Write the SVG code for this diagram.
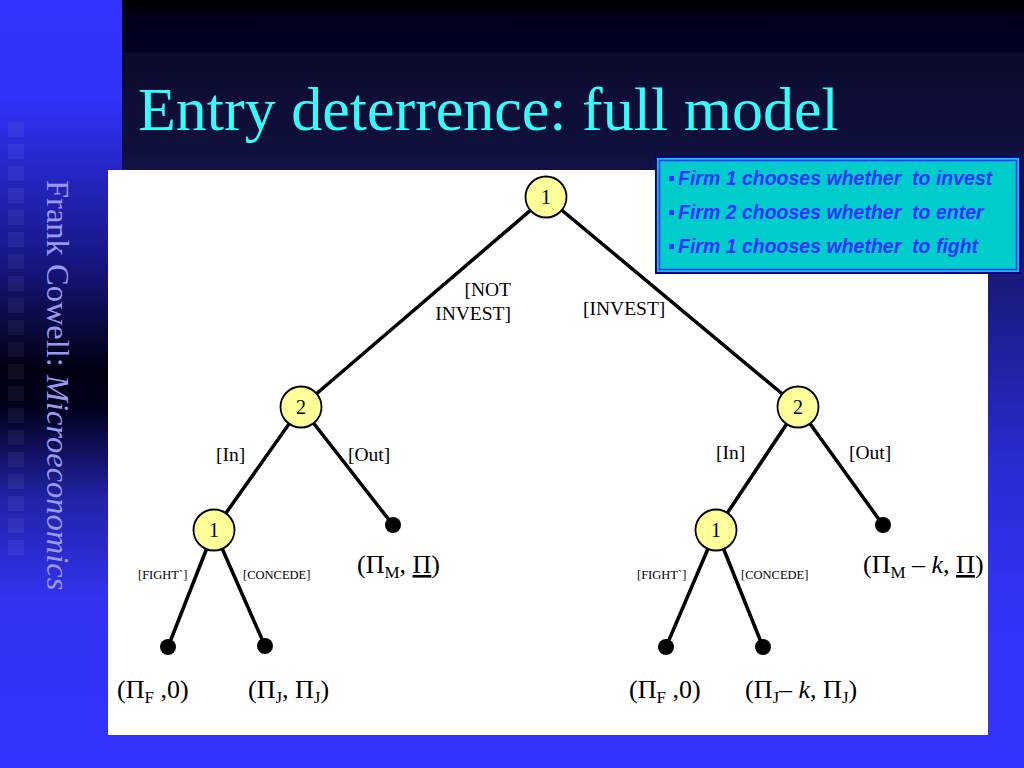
<svg xmlns="http://www.w3.org/2000/svg" width="1024" height="768" viewBox="0 0 1024 768">
<defs>
<linearGradient id="gMain" x1="0" y1="0" x2="0" y2="768" gradientUnits="userSpaceOnUse">
<stop offset="0" stop-color="#000000"/>
<stop offset="0.02" stop-color="#000018"/>
<stop offset="0.067" stop-color="#000024"/>
<stop offset="0.069" stop-color="#0b0b2e"/>
<stop offset="0.2" stop-color="#10103f"/>
<stop offset="0.4" stop-color="#1c1c88"/>
<stop offset="0.6" stop-color="#2a2ad0"/>
<stop offset="0.8" stop-color="#3333f8"/>
<stop offset="1" stop-color="#3333ff"/>
</linearGradient>
<linearGradient id="gLeft" x1="0" y1="0" x2="0" y2="768" gradientUnits="userSpaceOnUse">
<stop offset="0" stop-color="#3333ff"/>
<stop offset="0.13" stop-color="#3232f8"/>
<stop offset="0.33" stop-color="#18188a"/>
<stop offset="0.48" stop-color="#000012"/>
<stop offset="0.53" stop-color="#00001c"/>
<stop offset="0.65" stop-color="#2222a8"/>
<stop offset="0.78" stop-color="#3333f0"/>
<stop offset="1" stop-color="#3333ff"/>
</linearGradient>
</defs>
<style>
.edge{stroke:#000;stroke-width:3.5;fill:none;stroke-linecap:round}
.dec{fill:#ffff99;stroke:#000;stroke-width:1.8}
.dot{fill:#000}
.nl{font-family:"Liberation Serif",serif;font-size:20px;fill:#000;text-anchor:middle}
.lab{font-family:"Liberation Serif",serif;font-size:19.5px;fill:#000}
.sm{font-family:"Liberation Serif",serif;font-size:12.5px;fill:#000}
.pay{font-family:"Liberation Serif",serif;font-size:26px;fill:#000}
.sub{font-size:17px}
.box{font-family:"Liberation Sans",sans-serif;font-size:19.5px;font-weight:bold;font-style:italic;fill:#3333ff;white-space:pre}
.sq{fill:#ffffff;fill-opacity:0.055}
</style>
<!-- background -->
<rect x="0" y="0" width="1024" height="768" fill="url(#gMain)"/>
<rect x="0" y="0" width="122" height="768" fill="url(#gLeft)"/>
<g id="squares">
<rect class="sq" x="8" y="122" width="16" height="15"/>
<rect class="sq" x="8" y="144" width="16" height="15"/>
<rect class="sq" x="8" y="166" width="16" height="15"/>
<rect class="sq" x="8" y="188" width="16" height="15"/>
<rect class="sq" x="8" y="210" width="16" height="15"/>
<rect class="sq" x="8" y="232" width="16" height="15"/>
<rect class="sq" x="8" y="254" width="16" height="15"/>
<rect class="sq" x="8" y="276" width="16" height="15"/>
<rect class="sq" x="8" y="298" width="16" height="15"/>
<rect class="sq" x="8" y="320" width="16" height="15"/>
<rect class="sq" x="8" y="342" width="16" height="15"/>
<rect class="sq" x="8" y="364" width="16" height="15"/>
<rect class="sq" x="8" y="386" width="16" height="15"/>
<rect class="sq" x="8" y="408" width="16" height="15"/>
<rect class="sq" x="8" y="430" width="16" height="15"/>
<rect class="sq" x="8" y="452" width="16" height="15"/>
<rect class="sq" x="8" y="474" width="16" height="15"/>
<rect class="sq" x="8" y="496" width="16" height="15"/>
<rect class="sq" x="8" y="518" width="16" height="15"/>
<rect class="sq" x="8" y="540" width="16" height="15"/>
</g>
<text x="138" y="130" font-family="Liberation Serif, serif" font-size="62" fill="#33ffff">Entry deterrence: full model</text>
<text transform="translate(47,180) rotate(90)" font-family="Liberation Serif, serif" font-size="32.5" fill="#9999ee">Frank Cowell:  <tspan font-style="italic">Microeconomics</tspan></text>
<!-- white panel -->
<rect x="108" y="170" width="880" height="565" fill="#ffffff"/>
<!-- connectors -->
<g id="connectors">
<line class="edge" x1="546" y1="197" x2="301" y2="407"/>
<line class="edge" x1="546" y1="197" x2="798" y2="407"/>
<line class="edge" x1="301" y1="407" x2="214" y2="530"/>
<line class="edge" x1="301" y1="407" x2="393" y2="525"/>
<line class="edge" x1="214" y1="530" x2="168" y2="647"/>
<line class="edge" x1="214" y1="530" x2="265" y2="646"/>
<line class="edge" x1="798" y1="407" x2="716" y2="530"/>
<line class="edge" x1="798" y1="407" x2="883" y2="525"/>
<line class="edge" x1="716" y1="530" x2="666" y2="647"/>
<line class="edge" x1="716" y1="530" x2="763" y2="647"/>
</g>
<g id="edge-labels">
<text class="lab" x="511" y="296" text-anchor="end">[NOT</text>
<text class="lab" x="511" y="320" text-anchor="end">INVEST]</text>
<text class="lab" x="583" y="315">[INVEST]</text>
<text class="lab" x="216" y="461">[In]</text>
<text class="lab" x="348" y="461">[Out]</text>
<text class="lab" x="716" y="459">[In]</text>
<text class="lab" x="849" y="459">[Out]</text>
<text class="sm" x="138" y="579">[FIGHT`]</text>
<text class="sm" x="243" y="579">[CONCEDE]</text>
<text class="sm" x="637" y="579">[FIGHT`]</text>
<text class="sm" x="741" y="579">[CONCEDE]</text>
</g>
<!-- nodes -->
<g id="n-root"><circle class="dec" cx="546" cy="197" r="20.5"/><text class="nl" x="546" y="204">1</text></g>
<g id="n-left2"><circle class="dec" cx="301" cy="407" r="20.5"/><text class="nl" x="301" y="414">2</text></g>
<g id="n-right2"><circle class="dec" cx="798" cy="407" r="20.5"/><text class="nl" x="798" y="414">2</text></g>
<g id="n-left1"><circle class="dec" cx="214" cy="530" r="20.5"/><text class="nl" x="214" y="537">1</text></g>
<g id="n-right1"><circle class="dec" cx="716" cy="530" r="20.5"/><text class="nl" x="716" y="537">1</text></g>
<g id="t-left-out"><circle class="dot" cx="393" cy="525" r="8"/></g>
<g id="t-left-fight"><circle class="dot" cx="168" cy="647" r="8"/></g>
<g id="t-left-concede"><circle class="dot" cx="265" cy="646" r="8"/></g>
<g id="t-right-out"><circle class="dot" cx="883" cy="525" r="8"/></g>
<g id="t-right-fight"><circle class="dot" cx="666" cy="647" r="8"/></g>
<g id="t-right-concede"><circle class="dot" cx="763" cy="647" r="8"/></g>
<!-- payoffs -->
<g id="payoffs">
<text class="pay" x="357" y="573">(Π<tspan class="sub" dy="5">M</tspan><tspan dy="-5">, </tspan><tspan text-decoration="underline">Π</tspan>)</text>
<text class="pay" x="117" y="698">(Π<tspan class="sub" dy="5">F</tspan><tspan dy="-5"> ,0)</tspan></text>
<text class="pay" x="248" y="698">(Π<tspan class="sub" dy="5">J</tspan><tspan dy="-5">, Π</tspan><tspan class="sub" dy="5">J</tspan><tspan dy="-5">)</tspan></text>
<text class="pay" x="863" y="573">(Π<tspan class="sub" dy="5">M</tspan><tspan dy="-5"> – </tspan><tspan font-style="italic">k</tspan>, <tspan text-decoration="underline">Π</tspan>)</text>
<text class="pay" x="629" y="698">(Π<tspan class="sub" dy="5">F</tspan><tspan dy="-5"> ,0)</tspan></text>
<text class="pay" x="745" y="698">(Π<tspan class="sub" dy="5">J</tspan><tspan dy="-5">– </tspan><tspan font-style="italic">k</tspan>, Π<tspan class="sub" dy="5">J</tspan><tspan dy="-5">)</tspan></text>
</g>
<!-- info box -->
<g id="info-box">
<rect x="656" y="157" width="364" height="116" fill="#00cccc" stroke="#000088" stroke-width="2"/>
<rect x="659.5" y="160.5" width="357" height="109" fill="none" stroke="#3333ff" stroke-width="1.5"/>
<rect x="669" y="176" width="5" height="5" fill="#3333ff"/>
<rect x="669" y="210" width="5" height="5" fill="#3333ff"/>
<rect x="669" y="244" width="5" height="5" fill="#3333ff"/>
<text class="box" x="678" y="185">Firm 1 chooses whether  to invest</text>
<text class="box" x="678" y="219">Firm 2 chooses whether  to enter</text>
<text class="box" x="678" y="253">Firm 1 chooses whether  to fight</text>
</g>
</svg>
